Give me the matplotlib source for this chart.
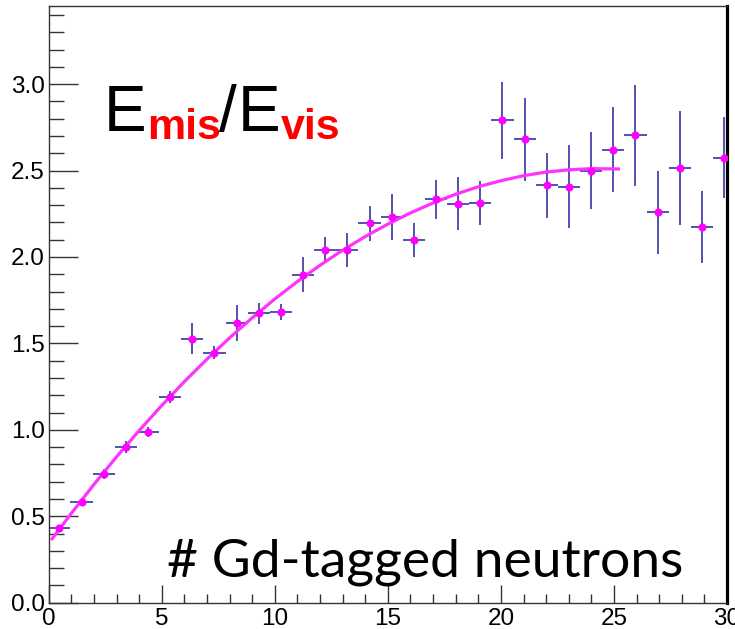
import matplotlib
matplotlib.use('Agg')
import matplotlib.pyplot as plt
from matplotlib.ticker import MultipleLocator

plt.rcParams['font.family'] = ['Liberation Sans', 'DejaVu Sans']

# Histogram points (bin centers)
x_centers = [0.47, 1.45, 2.43, 3.41, 4.39, 5.37, 6.35, 7.33, 8.31, 9.29,
             10.27, 11.25, 12.23, 13.21, 14.19, 15.17, 16.15, 17.13, 18.11, 19.09,
             20.07, 21.05, 22.03, 23.01, 23.99, 24.97, 25.95, 26.93, 27.91, 28.89,
             29.87]
y_values = [0.43, 0.582, 0.744, 0.902, 0.988, 1.19, 1.528, 1.447, 1.617, 1.673,
            1.682, 1.898, 2.04, 2.04, 2.195, 2.231, 2.097, 2.333, 2.309, 2.312,
            2.79, 2.682, 2.414, 2.405, 2.50, 2.62, 2.703, 2.26, 2.512, 2.173,
            2.575]
y_errors = [0.012, 0.018, 0.03, 0.035, 0.03, 0.035, 0.09, 0.04, 0.105, 0.063,
            0.045, 0.10, 0.077, 0.10, 0.10, 0.135, 0.10, 0.113, 0.154, 0.128,
            0.224, 0.24, 0.19, 0.24, 0.22, 0.247, 0.29, 0.24, 0.33, 0.21,
            0.236]
x_half_width = 0.49

# Fit curve
fit_x = [0.15, 1, 2, 3, 4, 5, 6, 7, 8, 9, 10, 11, 12, 13, 14, 15, 16, 17,
         18, 19, 20, 21, 22, 23, 24, 25.2]
fit_y = [0.370, 0.517, 0.684, 0.844, 0.996, 1.141, 1.279, 1.409, 1.532, 1.648,
         1.757, 1.858, 1.952, 2.039, 2.118, 2.190, 2.255, 2.312, 2.363, 2.406,
         2.441, 2.470, 2.491, 2.504, 2.511, 2.509]

fig = plt.figure(figsize=(7.35, 6.29), dpi=100)
ax = fig.add_axes([0.0663, 0.0418, 0.9228, 0.9482])

ax.errorbar(x_centers, y_values, yerr=y_errors, xerr=x_half_width, fmt='none',
            ecolor='#22229e', elinewidth=1.1, capsize=0, zorder=2)
ax.plot(fit_x, fit_y, color='#ff33ff', linewidth=2.3, zorder=3)
ax.plot(x_centers, y_values, 'o', color='#ff00ff', markersize=5.8,
        markeredgewidth=0, zorder=4)

ax.set_xlim(0, 30)
ax.set_ylim(0, 3.45)

# ROOT-like ticks
ax.xaxis.set_major_locator(MultipleLocator(5))
ax.xaxis.set_minor_locator(MultipleLocator(1))
ax.yaxis.set_major_locator(MultipleLocator(0.5))
ax.yaxis.set_minor_locator(MultipleLocator(0.1))
ax.yaxis.set_major_formatter(plt.FuncFormatter(lambda v, _: f'{v:.1f}'))
ax.tick_params(axis='both', which='both', direction='in', top=False, right=False,
               color='#333333', width=1, labelsize=17.5)
ax.tick_params(axis='x', which='major', length=13, pad=4)
ax.tick_params(axis='x', which='minor', length=6.5)
ax.tick_params(axis='y', which='major', length=21, pad=3)
ax.tick_params(axis='y', which='minor', length=10.5)

for side in ['left', 'top', 'bottom']:
    ax.spines[side].set_color('#333333')
    ax.spines[side].set_linewidth(1)
ax.spines['right'].set_color('black')
ax.spines['right'].set_linewidth(2.3)

# E_mis / E_vis label, built from pieces
W, H = 735.0, 629.0
def put(px, py, s, family='Liberation Sans', **kw):
    fig.text(px / W, 1 - py / H, s, va='baseline', ha='left',
             family=family, **kw)

put(104, 131, 'E', fontsize=46, color='black')
put(147, 139, 'mis', fontsize=31, color='#ff0000', fontweight='bold')
put(219, 131, '/', fontsize=46, color='black')
put(238, 131, 'E', fontsize=46, color='black')
put(281, 139, 'vis', fontsize=31, color='#ff0000', fontweight='bold')

put(167, 577, '# Gd-tagged neutrons', family=['Lato', 'DejaVu Sans'],
    fontsize=38.5, color='black')

fig.savefig('out.png', dpi=100)
